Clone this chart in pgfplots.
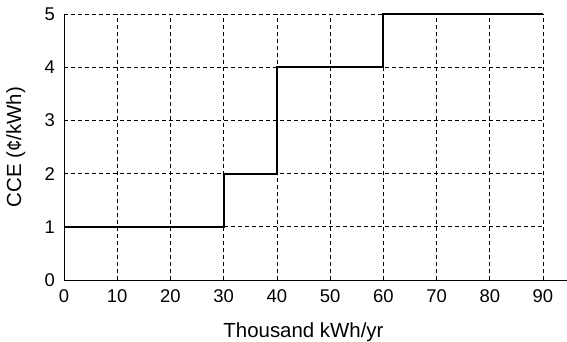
\documentclass[border=0pt]{standalone}
\usepackage{pgfplots}
\pgfplotsset{compat=1.18}
\usetikzlibrary{calc}
\usepackage{fontspec}
\setmainfont{Liberation Sans}
\begin{document}
\fontsize{18}{21}\selectfont
\begin{tikzpicture}
\begin{axis}[
  name=ax,
  scale only axis,
  width=479bp, height=266bp,
  xmin=0, xmax=90, ymin=0, ymax=5,
  axis lines*=left,
  x axis line style={shorten >=-24bp, line width=1pt},
  y axis line style={line width=1pt},
  xtick={0,10,...,90}, ytick={0,1,...,5},
  tick style={draw=none},
  grid=major,
  major grid style={black, dash pattern=on 4pt off 3pt, line width=0.7pt},
  /pgf/number format/assume math mode=true,
  xlabel={Thousand kWh/yr},
  ylabel={CCE (¢/kWh)},
  tick label style={font=\fontsize{18.5}{21}\selectfont},
  label style={font=\fontsize{20.5}{24}\selectfont},
  xticklabel style={yshift=-3bp},
  yticklabel style={xshift=-3bp},
  xlabel style={yshift=-8bp},
  ylabel style={yshift=7bp},
  clip=false,
]
\addplot[black, line width=2pt, const plot] coordinates {
  (0,1) (30,2) (40,4) (60,5) (90,5)
};
\end{axis}
\pgfresetboundingbox
\path[use as bounding box] ($(ax.origin)+(-64bp,-62bp)$) rectangle +(567bp,342bp);
\end{tikzpicture}
\end{document}
